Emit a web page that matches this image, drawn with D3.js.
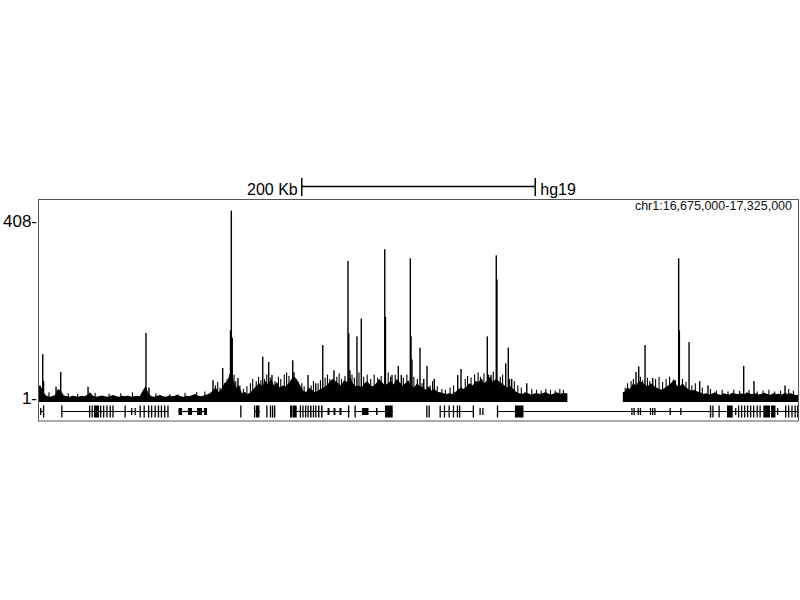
<!DOCTYPE html>
<html><head><meta charset="utf-8">
<script src="https://cdn.jsdelivr.net/npm/d3@7"></script>
<style>body{margin:0;background:#fff} svg{display:block;font-family:"Liberation Sans",Arial,sans-serif}</style>
</head><body><svg id="c" width="800" height="600"></svg>
<script>
// ---- data (positions in kb from region start) ----
const chrom = "chr1";
const regionStart = 16675000;
const regionEnd = 17325000;
const assembly = "hg19";
const scaleBarStartKb = 225;
const scaleBarKb = 200;
const yTicks = [1, 408];
const binKb = 2.5;
const bgValues = [
  30,14,
  6,4,5,8,22,18,7,5,4,6, 5,4,6,5,8,14,6,4,5,7, 5,4,6,8,5,4,6,5,7,4, 5,6,5,
  18,28,12,
  5,4,6,8,5,4,7,5,6,9, 5,4,6,5,8,10,6,5,7,9, 12,
  18,26,14,22,35,40,60,45,25,30,
  12,15,10,14,
  22,30,35,28,40,32,45,30,38,25, 30,28,35,45,50,42,30,
  18,15,25,20,14,18,22,
  25,30,38,45,40,35,30,42,38,50, 35,28,30,25,35,40,30,28,35,45, 38,30,35,40,32,45,38,30,35,42, 30,25,35,28,
  25,20,28,18,22,15,14,12,10,12,
  10,14,20,25,
  22,28,35,30,40,38,45,35,42,50, 38,45,40,35,30,25,28,22,
  15,12,10,14,12,9,11,13,10,12, 15,11,9,12,14,10,13,12,
  null,null,null,null,null,null,null,null,null,null, null,null,null,null,null,null,null,null,null,
  15,25,22,35,30,40,38,32,28,35,30,25,22,
  20,25,30,35,45,30,28,35,25,22,18,20,16,14,
  10,12,9,11,14,10,8,12,10,9, 13,11,10,12,9,14,11,10,12,9, 11,13,10,8,12,10,11,9,13,10, 12,9,8
];
// major peaks
const spikePos = [3.2,3.9,14.6,18.6,42.0,91.6,94.2,149.0,157.3,164.0,164.7,165.5,170.4,191.6,196.7,199.5,
  217.3,218.4,230.4,237.0,243.0,252.6,264.6,265.3,266.3,272.3,276.0,296.1,296.7,302.3,307.7,310.3,
  318.0,318.6,319.4,326.3,329.5,332.3,338.5,358.6,361.4,379.1,383.9,387.1,391.6,392.2,399.7,401.9,
  404.8,417.7,511.3,513.6,519.0,525.6,542.7,547.8,548.4,556.7,565.8,572.9,603.5,612.3,638.9];
const spikeVal = [102,40,27,61,27,151,25,42,70,157,433,140,47,96,84,54,
  88,60,54,35,123,65,317,150,65,143,184,344,188,54,75,54,
  323,143,90,117,45,75,45,54,68,45,143,54,330,275,81,117,
  45,35,61,74,123,47,38,323,157,130,40,30,75,40,30];
// minor noise peaks
const minorPos = [8.5,25,33,48,60,70,80,100,112,125,135,142,
  151,153,155,159,161,167,168.5,172,175,178,181,183,186,188,190,193,195,198,202,205,207,210,212,214,
  220,222,225,227,233,235,239,241,245,247,249,255,257,259,262,268,270,274,278,281,284,287,290,293,
  299,301,305,312,315,321,324,328,335,337,341,345,348,352,355,365,367,370,373,376,378,381,385,389,
  395,397,403,407,410,413,422,426,430,434,438,442,446,449,
  502,504,507,509,515,517,521,523,528,531,534,537,540,545,551,554,559,562,568,575,580,585,590,595,
  600,608,615,620,625,630,635,642,646];
const minorVal = [14,12,10,13,11,12,14,12,10,13,15,16,
  30,38,25,35,45,55,40,30,22,28,35,45,40,50,42,45,55,48,40,50,45,55,60,52,
  45,38,35,28,30,40,35,42,48,55,45,50,58,45,52,55,48,60,50,55,45,55,48,52,
  60,50,55,48,55,50,45,35,30,40,28,22,20,25,30,45,52,48,55,60,50,58,55,62,
  50,55,45,40,30,25,22,20,18,22,20,18,22,20,
  25,35,40,45,50,42,48,40,45,50,38,45,50,42,45,38,30,35,25,22,18,20,16,20,
  18,20,16,18,20,16,18,22,18];
const geneLines = [[1.3,3.9],[19.4,110.5],[119.5,143.9],[184.1,189.3],[215.0,266.3],[269.8,303.2],[343.4,371.9],[392.2,650]];
const exons = [
  [0.9,1.7,"M"],[3.4,4.5,"T"],
  [19.0,20.1,"T"],[42.8,43.9,"T"],[45.0,46.1,"T"],[47.1,51.4,"T"],[52.2,53.4,"T"],[54.8,55.9,"T"],[57.6,58.7,"T"],
  [60.4,61.5,"T"],[62.8,63.9,"T"],[73.2,74.3,"T"],[78.8,79.9,"M"],[81.8,82.9,"M"],[86.1,87.2,"T"],[89.5,90.6,"T"],
  [93.3,94.5,"T"],[95.9,97.0,"T"],[98.9,100.0,"T"],[101.7,102.9,"T"],[104.3,105.4,"T"],[107.1,108.2,"T"],[109.9,111.0,"T"],
  [119.5,122.5,"M"],[127.6,131.0,"M"],[135.3,139.6,"M"],[141.3,143.9,"M"],
  [172.3,173.4,"T"],[184.1,185.2,"T"],[185.8,188.8,"T"],[194.6,195.7,"T"],[197.7,198.7,"T"],[199.5,200.4,"T"],[201.3,202.1,"T"],
  [215.0,216.7,"T"],[217.1,220.7,"T"],[223.3,224.4,"T"],[225.5,226.5,"T"],[227.8,228.8,"T"],[229.9,231.0,"T"],[232.1,233.4,"T"],
  [234.5,235.5,"T"],[236.5,237.6,"T"],[238.9,240.2,"T"],[241.5,242.8,"T"],[247.1,248.8,"M"],[252.2,253.9,"M"],[257.3,259.1,"M"],[264.6,265.7,"T"],
  [270.2,271.3,"T"],[276.6,282.2,"M"],[288.6,289.9,"M"],[296.3,302.9,"T"],
  [331.6,332.6,"T"],[333.6,334.6,"T"],
  [343.0,344.1,"T"],[346.7,347.7,"T"],[350.7,351.8,"T"],[354.4,355.4,"T"],[357.8,358.8,"T"],[359.7,360.7,"T"],[371.4,372.5,"T"],
  [377.2,378.3,"M"],[379.6,380.6,"M"],
  [392.1,393.1,"T"],[407.6,414.9,"T"],[507.2,508.2,"M"],[509.1,510.0,"M"],[512.6,513.6,"M"],[514.5,515.5,"M"],
  [523.1,524.1,"M"],[525.0,526.0,"M"],[526.9,527.9,"M"],[540.0,541.0,"M"],[549.1,550.2,"M"],
  [574.5,575.7,"T"],[576.6,577.6,"T"],[581.9,583.0,"T"],[589.2,594.1,"T"],[596.1,597.1,"M"],[598.6,599.6,"T"],
  [601.2,602.2,"T"],[603.8,604.8,"T"],[606.3,607.4,"T"],[608.9,609.9,"T"],[611.5,612.5,"T"],[614.5,615.5,"T"],
  [617.0,618.1,"T"],[620.3,626.0,"T"],[626.9,630.7,"T"],[632.0,633.1,"M"],
  [638.9,639.9,"T"],[641.4,642.5,"T"],[644.3,645.3,"T"],[647.0,648.0,"T"],[649.2,650,"T"]
];

// ---- drawing ----
const svg = d3.select("#c");
const FONT = '"Liberation Sans",Arial,sans-serif';
const x = d3.scaleLinear().domain([0, (regionEnd - regionStart) / 1000]).range([39, 798]);
const y = d3.scaleLinear().domain([1, 408]).range([398, 221.5]);
const base = 402;

svg.append("clipPath").attr("id", "clip").append("rect")
  .attr("x", 39).attr("y", 200).attr("width", 759).attr("height", base - 200);
const g = svg.append("g").attr("clip-path", "url(#clip)");

// background coverage as jagged area; split into runs at missing data
const runs = [];
let cur = null;
bgValues.forEach((v, i) => {
  if (v == null) { cur = null; return; }
  if (!cur) {
    cur = [{ k: i * binKb, v }];
    runs.push(cur);
  }
  cur.push({ k: (i + 0.5) * binKb, v });
  if (i === bgValues.length - 1 || bgValues[i + 1] == null) cur.push({ k: (i + 1) * binKb, v });
});
const area = d3.area().x(d => x(d.k)).y0(base).y1(d => y(d.v)).curve(d3.curveLinear);
g.selectAll("path.bg").data(runs).join("path").attr("class", "bg")
  .attr("d", area).attr("fill", "#000");

const minors = minorPos.map((p, i) => ({ p, v: minorVal[i] }));
g.selectAll("rect.mn").data(minors).join("rect").attr("class", "mn")
  .attr("x", d => x(d.p) - 0.5).attr("width", 1.1)
  .attr("y", d => y(d.v)).attr("height", d => base - y(d.v)).attr("fill", "#000");

const spikes = spikePos.map((p, i) => ({ p, v: spikeVal[i] }));
g.selectAll("rect.sp").data(spikes).join("rect").attr("class", "sp")
  .attr("x", d => x(d.p) - 0.7).attr("width", 1.4)
  .attr("y", d => y(d.v)).attr("height", d => base - y(d.v)).attr("fill", "#000");

// gene track
const gy = 411.5;
svg.selectAll("line.intron").data(geneLines).join("line").attr("class", "intron")
  .attr("x1", d => x(d[0])).attr("x2", d => x(d[1])).attr("y1", gy).attr("y2", gy)
  .attr("stroke", "#000").attr("stroke-width", 1.2);
svg.selectAll("rect.exon").data(exons).join("rect").attr("class", "exon")
  .attr("x", d => x(d[0])).attr("width", d => Math.max(1.3, x(d[1]) - x(d[0])))
  .attr("y", d => d[2] === "T" ? gy - 6 : gy - 3.5)
  .attr("height", d => d[2] === "T" ? 12 : 7).attr("fill", "#000");

// panel border
svg.append("rect").attr("x", 38.5).attr("y", 199.5).attr("width", 760).attr("height", 221.5)
  .attr("fill", "none").attr("stroke", "#555").attr("stroke-width", 1);

// y axis
const ax = d3.axisLeft(y).tickValues(yTicks).tickSize(0).tickPadding(1).tickFormat(d => d + "-");
svg.append("g").attr("transform", "translate(38,0)").call(ax)
  .call(a => a.select(".domain").remove())
  .selectAll("text").attr("font-size", 17).attr("font-family", FONT).attr("fill", "#000");

// scale bar
const sb0 = x(scaleBarStartKb), sb1 = x(scaleBarStartKb + scaleBarKb);
const sb = svg.append("g");
sb.append("line").attr("x1", sb0).attr("x2", sb1).attr("y1", 186.5).attr("y2", 186.5).attr("stroke", "#000").attr("stroke-width", 1.5);
[sb0, sb1].forEach(v => sb.append("line").attr("x1", v).attr("x2", v).attr("y1", 178).attr("y2", 196).attr("stroke", "#000").attr("stroke-width", 1.5));
sb.append("text").attr("x", sb0 - 4).attr("y", 195).attr("text-anchor", "end")
  .attr("font-size", 16).attr("font-family", FONT).text(scaleBarKb + " Kb");
sb.append("text").attr("x", sb1 + 5).attr("y", 195)
  .attr("font-size", 16).attr("font-family", FONT).text(assembly);

// region label
const fmt = d3.format(",");
svg.append("text").attr("x", 792).attr("y", 209.5).attr("text-anchor", "end")
  .attr("font-size", 12.5).attr("font-family", FONT).attr("fill", "#111")
  .text(`${chrom}:${fmt(regionStart)}-${fmt(regionEnd)}`);
</script>
</body></html>
